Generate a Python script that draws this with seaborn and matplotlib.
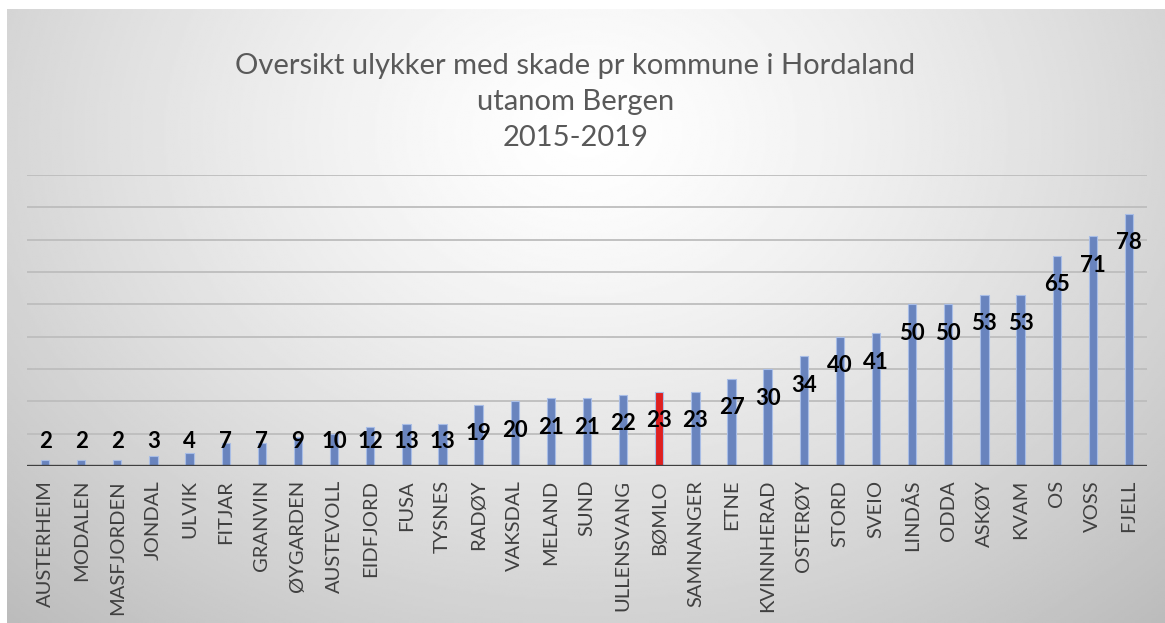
import matplotlib
matplotlib.use("Agg")
import matplotlib.pyplot as plt
import numpy as np
import seaborn as sns

kommuner = ["AUSTERHEIM", "MODALEN", "MASFJORDEN", "JONDAL", "ULVIK", "FITJAR",
            "GRANVIN", "ØYGARDEN", "AUSTEVOLL", "EIDFJORD", "FUSA", "TYSNES",
            "RADØY", "VAKSDAL", "MELAND", "SUND", "ULLENSVANG", "BØMLO",
            "SAMNANGER", "ETNE", "KVINNHERAD", "OSTERØY", "STORD", "SVEIO",
            "LINDÅS", "ODDA", "ASKØY", "KVAM", "OS", "VOSS", "FJELL"]
ulykker = [2, 2, 2, 3, 4, 7, 7, 9, 10, 12, 13, 13, 19, 20, 21, 21, 22, 23,
           23, 27, 30, 34, 40, 41, 50, 50, 53, 53, 65, 71, 78]
uthevet = "BØMLO"

sns.set_theme(style="white")
plt.rcParams["font.family"] = ["Lato", "DejaVu Sans"]

fig = plt.figure(figsize=(11.65, 6.23), dpi=100)
fig.patch.set_facecolor("white")

# radial grey background like the Excel chart area
bg = fig.add_axes([7 / 1165, 0, 1 - 7 / 1165, 1 - 9 / 623], zorder=0)
yy, xx = np.mgrid[0:1:300j, 0:1:600j]
d = np.sqrt(((xx - 0.5) / 0.75) ** 2 + ((yy - 0.2) / 1.1) ** 2)
shade = 1.0 - 0.27 * np.clip(d, 0, 1) ** 1.3
bg.imshow(shade, cmap="gray", vmin=0, vmax=1, aspect="auto", extent=[0, 1, 1, 0])
bg.axis("off")

ax = fig.add_axes([27 / 1165, 1 - 466 / 623, 1120 / 1165, 291 / 623], zorder=1)
ax.patch.set_alpha(0)

farger = ["#ff0000" if k == uthevet else "#5b7fcc" for k in kommuner]
sns.barplot(x=kommuner, y=ulykker, hue=kommuner, palette=farger, legend=False,
            width=0.23, edgecolor="#a8bde6", linewidth=0.8, ax=ax, zorder=3)

ax.set_ylim(0, 90)
ax.set_xlim(-0.5, len(kommuner) - 0.5)
ax.set_yticks(range(10, 91, 10))
ax.yaxis.grid(True, color="#bdbdbd", linewidth=1.3)
ax.set_axisbelow(True)
ax.tick_params(axis="y", left=False, labelleft=False)
ax.tick_params(axis="x", bottom=False, pad=4)
for s in ax.spines.values():
    s.set_visible(False)
ax.axhline(0, color="#404040", linewidth=2.4, zorder=4)

for lab in ax.get_xticklabels():
    lab.set_rotation(90)
    lab.set_fontsize(14.5)
    lab.set_color("#404040")
    lab.set_va("top")
ax.set_xlabel("")
ax.set_ylabel("")

# data labels: inside end, pushed up when too close to the axis
for i, v in enumerate(ulykker):
    ax.text(i, max(v - 9, 7.7), str(v), ha="center", va="center",
            fontsize=16, fontweight="bold", color="black", zorder=5)

fig.text(0.494, 1 - 102 / 623, "Oversikt ulykker med skade pr kommune i Hordaland\nutanom Bergen\n2015-2019",
         ha="center", va="center", fontsize=21, color="#595959", linespacing=1.48)

fig.savefig("out.png", dpi=100)
